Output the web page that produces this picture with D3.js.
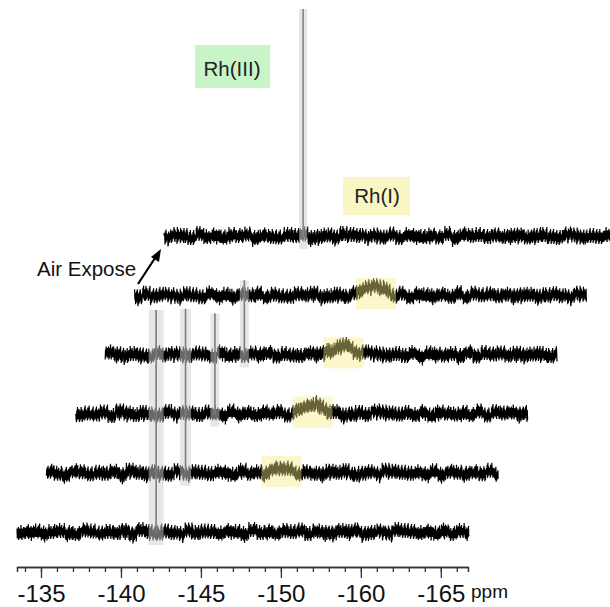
<!DOCTYPE html>
<html>
<head>
<meta charset="utf-8">
<script src="https://cdn.jsdelivr.net/npm/d3@7"></script>
<style>
  body { margin: 0; background: #fff; }
  svg { display: block; font-family: 'Liberation Sans', Arial, sans-serif; }
</style>
</head>
<body>
<svg id="chart" width="610" height="607"></svg>
<script>
// axis ticks (labels as printed on the original, evenly spaced)
const tickValues = [-135, -140, -145, -150, -155, -160]
const tickLabels = ['-135', '-140', '-145', '-150', '-160', '-165']

// spectra, bottom to top (last one is after air exposure)
const traceNames = ['t1', 't2', 't3', 't4', 't5', 'air']
const peakShift = -142.2
const peakHeights = [223, 165, 101, 75, 0, 228]
const peakBandWidths = [15, 11, 9, 9, 0, 8]
const bumpShifts = [null, -148.2, -148.3, -148.4, -148.6, null]
const bumpHeights = [0, 4, 10, 10, 10, 0]
const bumpProfile = [0, 1, 3, 5, 7, 9, 10, 9, 8, 6, 4, 2, 0]

// baseline noise, one digit per sample
const noiseLevels = [-8.5, -6.5, -5, -3.5, -2, 2, 3.5, 5, 6.5, 8.5]
const noiseString =
  '726381647253926173648253716473826391547263806372548173629352' +
  '637182749263518372649170638257146382936471825364718259364728' +
  '816274539261748352617394826153704628391572648315926374815263' +
  '572846193728465317294638517263948172536481927354618273946152' +
  '647382915264738291647358216493728156384927163548297163845276' +
  '381726495162738495261837405928163748295163728495061827364915' +
  '728364915273846152937461825394716283950617283945162738492617' +
  '519283746152839405172638495162738491527364819253746182937465' +
  '293847561829374650182736495281736459281746350918273645192837' +
  '462819375162849371526384917253648192735461829376451829364715'
// slow baseline wander, one digit per half ppm
const driftLevels = [-2.5, -2, -1.5, -1, -0.5, 0.5, 1, 1.5, 2, 2.5]
const driftString = '4563574286354719536428465375294637582643758246397546382754639285746'

const svg = d3.select('#chart')
const x = d3.scaleLinear().domain([-133.5, -161.7]).range([17, 468])
const y = d3.scaleLinear().domain([0, 250]).range([0, -250])
const stepX = 29.4
const stepY = -59.2
const base0 = 533
const ppmStep = 1 / 48

const traces = traceNames.map((name, i) => {
  const pts = []
  const n = Math.round((161.75 - 133.5) / ppmStep)
  for (let k = 0; k <= n; k++) {
    const ppm = -133.5 - k * ppmStep
    let v = noiseLevels[+noiseString[(k + i * 97) % noiseString.length]]
    v += driftLevels[+driftString[(Math.floor(k / 24) + i * 5) % driftString.length]]
    if (bumpShifts[i] !== null) {
      const idx = Math.round((ppm - bumpShifts[i]) / 1.25 * 6) + 6
      if (idx >= 0 && idx < bumpProfile.length) v += bumpHeights[i] * bumpProfile[idx] / 10
    }
    pts.push({ ppm, v })
  }
  return { name, i, pts }
})

const line = d3.line()
  .x(d => x(d.ppm))
  .y(d => y(d.v))

const g = svg.append('g')
g.selectAll('path.trace')
  .data(traces)
  .enter().append('path')
  .attr('class', 'trace')
  .attr('transform', d => `translate(${d.i * stepX},${base0 + d.i * stepY})`)
  .attr('d', d => line(d.pts))
  .attr('fill', 'none')
  .attr('stroke', '#000')
  .attr('stroke-width', 1.2)

// sharp peaks
g.selectAll('line.peak')
  .data(traces.filter(d => peakHeights[d.i] > 0))
  .enter().append('line')
  .attr('class', 'peak')
  .attr('x1', d => x(peakShift) + d.i * stepX)
  .attr('x2', d => x(peakShift) + d.i * stepX)
  .attr('y1', d => base0 + d.i * stepY)
  .attr('y2', d => base0 + d.i * stepY + y(peakHeights[d.i]))
  .attr('stroke', '#2a2a2a')
  .attr('stroke-width', 1.6)

// grey bands over the peaks
g.selectAll('rect.band')
  .data(traces.filter(d => peakHeights[d.i] > 0))
  .enter().append('rect')
  .attr('class', 'band')
  .attr('x', d => x(peakShift) + d.i * stepX - peakBandWidths[d.i] / 2)
  .attr('width', d => peakBandWidths[d.i])
  .attr('y', d => base0 + d.i * stepY + y(peakHeights[d.i]))
  .attr('height', d => peakHeights[d.i] + 12)
  .attr('fill', 'rgb(205,210,205)')
  .attr('opacity', d => d.name === 'air' ? 0.55 : 0.5)

// yellow highlight over the broad Rh(I) signal
g.selectAll('rect.hl')
  .data(traces.filter(d => bumpShifts[d.i] !== null))
  .enter().append('rect')
  .attr('class', 'hl')
  .attr('x', d => x(bumpShifts[d.i]) + d.i * stepX - 20)
  .attr('width', 40)
  .attr('y', d => base0 + d.i * stepY - 18)
  .attr('height', 31)
  .attr('fill', 'rgb(248,236,130)')
  .attr('opacity', 0.42)

// axis
const axis = svg.append('g').attr('transform', 'translate(0,567)')
axis.call(d3.axisBottom(x).tickValues(d3.range(-134, -162, -1)).tickSize(5).tickFormat(''))
axis.append('g').call(d3.axisBottom(x).tickValues(tickValues).tickSize(11)
  .tickFormat((d, i) => tickLabels[i]).tickSizeOuter(0))
axis.selectAll('.domain').attr('stroke', '#333').attr('stroke-width', 1.5)
axis.selectAll('.tick line').attr('stroke', '#333').attr('stroke-width', 1.3)
axis.selectAll('.tick text').attr('font-size', 24).attr('fill', '#111').attr('dy', 0).attr('y', 35)
  .attr('font-family', "'Liberation Sans', Arial, sans-serif")
svg.append('text').attr('x', 471).attr('y', 598).attr('font-size', 19).attr('fill', '#111').text('ppm')

// labels
svg.append('rect').attr('x', 195).attr('y', 45).attr('width', 75).attr('height', 43).attr('fill', 'rgb(200,245,200)')
svg.append('text').attr('x', 232).attr('y', 76).attr('text-anchor', 'middle').attr('font-size', 20.5).attr('fill', '#222').text('Rh(III)')
svg.append('rect').attr('x', 343).attr('y', 177).attr('width', 67).attr('height', 38).attr('fill', 'rgb(250,246,196)')
svg.append('text').attr('x', 377).attr('y', 203).attr('text-anchor', 'middle').attr('font-size', 20.5).attr('fill', '#222').text('Rh(I)')

svg.append('text').attr('x', 37).attr('y', 276).attr('font-size', 20.5).attr('fill', '#111').text('Air Expose')
svg.append('line').attr('x1', 138).attr('y1', 284).attr('x2', 155).attr('y2', 258)
  .attr('stroke', '#000').attr('stroke-width', 2.2)
svg.append('path').attr('d', 'M161,249 L151,257 L159,262 Z').attr('fill', '#000')
</script>
</body>
</html>
